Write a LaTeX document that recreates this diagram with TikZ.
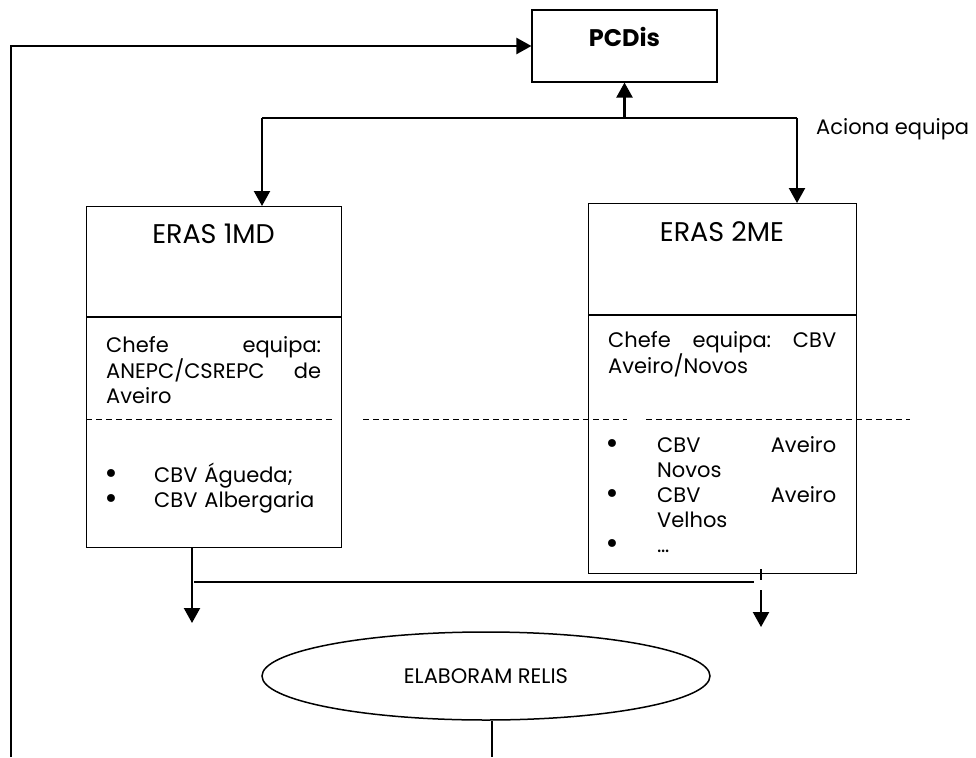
\documentclass[tikz,border=0pt]{standalone}
\usepackage{fontspec}
\setmainfont{Poppins}
\newfontfamily\bulletfont{DejaVu Sans}
\usetikzlibrary{arrows.meta,shapes.geometric}

% spread the words of one line over a given width
\newcommand{\spreadline}[2]{\leavevmode\hbox to #1{#2}}
% bullet mark of a list line
\newcommand{\itemdot}{\makebox[20pt]{\bulletfont\fontsize{27}{25}\selectfont\raisebox{-1.5pt}{•}}}

\begin{document}
\begin{tikzpicture}[
  x=1pt, y=-1pt,
  % Node styles
  erasbox/.style={rectangle, draw, line width=1.1pt, anchor=north west, inner sep=0pt},
  topbox/.style={rectangle, draw, line width=1.1pt, minimum width=185pt,
    minimum height=72pt, inner sep=0pt},
  relisnode/.style={ellipse, draw, line width=1.5pt, minimum width=448pt,
    minimum height=88pt, inner sep=0pt, font=\fontsize{21}{24}\selectfont},
  boxtitle/.style={font=\fontsize{27}{30}\selectfont, inner sep=0pt},
  bodytext/.style={font=\fontsize{21}{25}\selectfont, anchor=base west,
    inner sep=0pt, align=left},
  note/.style={font=\fontsize{21}{24}\selectfont, anchor=base west, inner sep=0pt},
  arr/.style={-{Triangle[width=16pt,length=15pt]}, line width=2.2pt},
  thickline/.style={line width=2.2pt},
  thinline/.style={line width=1.3pt},
  sepline/.style={dash pattern=on 6pt off 4pt, line width=1pt},
]
\useasboundingbox (0,0) rectangle (976,757);

% === Top: PCDis ===
\node[topbox, label={[font=\bfseries\fontsize{24}{28}\selectfont, yshift=9pt]center:PCDis}]
  (pcdis) at (624.5,46) {};
\node[note] (aciona) at (816,135) {Aciona equipa};

% === ERAS 1MD (left) ===
\node[erasbox, minimum width=255pt, minimum height=341pt] (eras1) at (86,206) {};
\node[boxtitle] (title1) at (213.5,234) {ERAS 1MD};
\draw[thinline] (eras1.west |- 0,317) -- (eras1.east |- 0,317);
\node[bodytext, text width=215pt] (chefe1) at (106,352)
  {\spreadline{215pt}{Chefe\hfill equipa:}\\
   \spreadline{215pt}{ANEPC/CSREPC\hfill de}\\
   Aveiro};
\node[bodytext, text width=235pt] (list1) at (101,482)
  {\itemdot\hspace{33pt}CBV Águeda;\\
   \itemdot\hspace{33pt}CBV Albergaria};

% === ERAS 2ME (right) ===
\node[erasbox, minimum width=268pt, minimum height=370pt] (eras2) at (588,203) {};
\node[boxtitle] (title2) at (722,232) {ERAS 2ME};
\draw[thinline] (eras2.west |- 0,315) -- (eras2.east |- 0,315);
\node[bodytext, text width=228pt] (chefe2) at (608,347)
  {\spreadline{228pt}{Chefe\hfill equipa:\hfill CBV}\\
   Aveiro/Novos};
\node[bodytext, text width=250pt] (list2) at (602,452)
  {\itemdot\hspace{35pt}\spreadline{179pt}{CBV\hfill Aveiro}\\
   \hspace*{55pt}Novos\\
   \itemdot\hspace{35pt}\spreadline{179pt}{CBV\hfill Aveiro}\\
   \hspace*{55pt}Velhos\\
   \itemdot\hspace{35pt}…};

% Dashed separator across both boxes
\draw[sepline] (eras1.west |- 0,419) -- (334,419);
\draw[sepline] (363,419) -- (627,419);
\draw[sepline] (646,419) -- (910,419);

% === Bottom: ELABORAM RELIS ===
\node[relisnode] (relis) at (486,676) {ELABORAM RELIS};

% === Arrows: PCDis -> teams ===
\coordinate (split) at (pcdis.south |- 0,118);
\coordinate (leftdrop) at (262,118);
\coordinate (rightdrop) at (797,118);
\draw[thinline] (leftdrop) -- (rightdrop);
\draw[arr] (split) -- (pcdis.south);
\draw[arr] (leftdrop) -- (leftdrop |- eras1.north);
\draw[arr] (rightdrop) -- (rightdrop |- eras2.north);

% === Feedback line back to PCDis ===
\coordinate (fbfoot) at (11,757);
\draw[arr] (fbfoot) |- (pcdis.west);

% === Arrows: teams -> RELIS ===
\coordinate (leftdown) at (192,623);
\draw[arr] (eras1.south -| leftdown) -- (leftdown);
\draw[thinline] (194,582) -- (754,582);
\coordinate (rightdown) at (761,627);
\draw[thickline] (eras2.south -| rightdown) ++(0,-5) -- ++(0,11);
\draw[arr] (761,590) -- (rightdown);

% Line leaving RELIS
\coordinate (relisfoot) at (492,757);
\draw[thinline] (relis.south -| relisfoot) -- (relisfoot);

\end{tikzpicture}
\end{document}
